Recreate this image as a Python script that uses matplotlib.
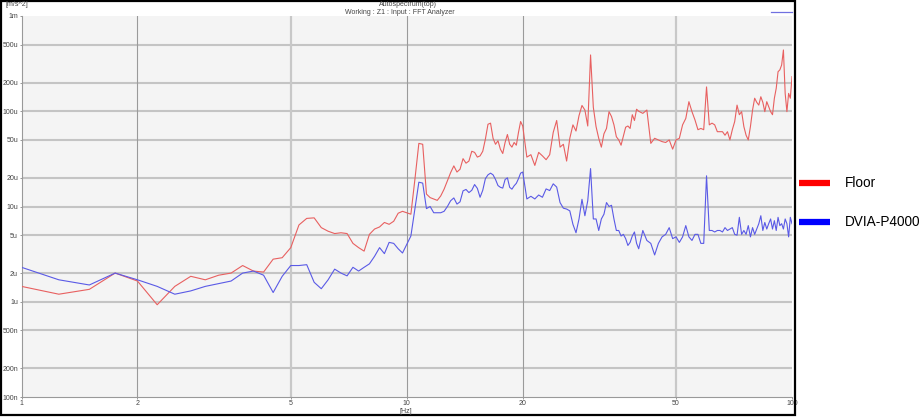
import numpy as np
import matplotlib
matplotlib.use("Agg")
import matplotlib.pyplot as plt
from matplotlib.patches import Rectangle
from matplotlib.lines import Line2D

# Frecuencias (Hz): 0.25 Hz hasta 20, 0.5 Hz hasta 40, 1 Hz hasta 100
freq = np.concatenate([np.arange(1.0, 20.01, 0.25),
                       np.arange(20.5, 40.01, 0.5),
                       np.arange(41.0, 100.01, 1.0)])

# Autoespectro, en micro m/s^2
floor_u = [
    1.45, 1.2, 1.35, 2.0, 1.65, 0.93, 1.45, 1.85, 1.7, 1.9, 2.0, 2.4, 2.1, 2.05, 2.8, 2.9,
    3.7, 6.4, 7.5, 7.6, 6.0, 5.5, 5.2, 5.3, 5.2, 4.1, 3.7, 3.4, 5.1, 5.8, 6.1, 6.8,
    6.5, 7.0, 8.5, 8.9, 8.6, 8.3, 19.3, 46, 45, 13.5, 12.4, 12, 11.6, 12.9, 15.2, 18.6,
    22.7, 26.7, 23, 24.6, 31.8, 28.5, 30, 38, 37, 33, 34, 38, 51, 73, 75, 52,
    45, 49, 40, 36, 47, 57, 45, 42, 47, 44, 60, 78, 70,
    33, 35, 27, 37, 34, 31, 35, 60, 80, 42, 45, 30, 52, 72, 62, 90, 115, 103, 70, 390,
    110, 69, 52, 42, 58, 66, 99, 88, 72, 54, 50, 44, 55, 68, 70, 66, 92, 80, 105, 100,
    95, 103, 46, 52, 50, 48, 47, 50, 40, 50, 52, 72, 84, 126, 99, 81, 64, 66, 64, 180,
    72, 75, 72, 61, 61, 61, 56, 61, 50, 64, 78, 116, 92, 99, 69, 56, 50, 69, 103, 137,
    124, 116, 142, 124, 99, 126, 112, 99, 92, 137, 174, 260, 272, 306, 440, 154, 99, 154, 137, 231,
]
dvia_u = [
    2.3, 1.7, 1.5, 2.0, 1.7, 1.45, 1.2, 1.3, 1.45, 1.55, 1.65, 2.0, 2.1, 1.9, 1.25, 1.85,
    2.4, 2.4, 2.45, 1.6, 1.37, 1.7, 2.2, 2.0, 1.87, 2.3, 2.1, 2.3, 2.5, 3.0, 3.7, 3.2,
    4.2, 4.1, 3.6, 3.25, 4.0, 4.9, 9.4, 18, 17.6, 9.5, 10, 8.6, 8.6, 8.6, 8.9, 10,
    11.5, 12.3, 10.6, 11.2, 14.6, 15.1, 14, 14.8, 17, 15.5, 12.5, 14.8, 19.6, 21.5, 22.4, 21.5,
    19.2, 16.6, 15.9, 15.6, 19.2, 20, 15.9, 15.2, 16.5, 17.5, 19.6, 22.4, 23,
    12, 12.8, 12, 13.2, 12.5, 15.3, 14.7, 17.3, 16, 11, 9.6, 9.4, 9.0, 6.5, 5.3, 7.4, 11.9, 8.0, 11.5, 25,
    7.4, 7.4, 5.6, 7.4, 8.3, 11, 10, 10.3, 7.4, 5.6, 5.6, 4.9, 5.1, 4.6, 3.9, 4.2, 4.9, 5.4, 4.1, 3.6,
    5.6, 4.4, 4.1, 3.1, 4.1, 4.8, 5.1, 6.0, 4.6, 4.8, 4.2, 4.8, 6.3, 4.8, 4.4, 5.1, 5.1, 4.1, 4.1, 21,
    5.6, 5.6, 5.4, 5.6, 5.6, 5.4, 6.0, 5.6, 5.8, 6.0, 5.1, 5.0, 7.7, 5.1, 5.6, 5.1, 6.3, 4.8, 6.0, 5.1,
    5.8, 6.6, 8.0, 5.6, 6.8, 5.8, 6.6, 7.4, 5.8, 7.1, 5.6, 7.7, 6.3, 6.6, 5.8, 7.4, 6.6, 4.8, 7.7, 6.6,
]

x_ticks = [1, 2, 5, 10, 20, 50, 100]
y_ticks = [1e-3, 5e-4, 2e-4, 1e-4, 5e-5, 2e-5, 1e-5, 5e-6, 2e-6, 1e-6, 5e-7, 2e-7, 1e-7]
y_labels = ["1m", "500u", "200u", "100u", "50u", "20u", "10u", "5u", "2u", "1u",
            "500n", "200n", "100n"]

W, H = 923, 418
fig = plt.figure(figsize=(W / 100, H / 100), dpi=100)
fig.patch.set_facecolor("white")

ax = fig.add_axes([21.5 / W, 1 - 397 / H, (792 - 21.5) / W, (397 - 16) / H])
ax.set_facecolor("#f4f4f4")
ax.set_xscale("log")
ax.set_yscale("log")
ax.set_xlim(1, 100)
ax.set_ylim(1e-7, 1e-3)

# Rejilla
for y in y_ticks[1:-1]:
    ax.axhline(y, color="#c4c4c4", lw=1.5, zorder=1)
for x in [2, 10, 20]:
    ax.axvline(x, color="#9a9a9a", lw=0.8, zorder=1)
for x in [5, 50]:
    ax.axvline(x, color="#c8c8c8", lw=1.6, zorder=1)

ax.plot(freq, np.array(floor_u) * 1e-6, color="#e86060", lw=0.8, zorder=3)
ax.plot(freq, np.array(dvia_u) * 1e-6, color="#5a5ae6", lw=0.8, zorder=3)

ax.set_xticks(x_ticks)
ax.set_xticklabels([str(t) for t in x_ticks])
ax.set_yticks(y_ticks)
ax.set_yticklabels(y_labels)
ax.minorticks_off()
ax.tick_params(axis="both", labelsize=5, labelcolor="#444444", color="#888888",
               length=1.5, width=0.6, pad=1)
for lab in ax.get_xticklabels() + ax.get_yticklabels():
    lab.set_family("Liberation Sans")

for side in ["top", "right"]:
    ax.spines[side].set_visible(False)
for side in ["left", "bottom"]:
    ax.spines[side].set_color("#999999")
    ax.spines[side].set_linewidth(0.8)

# Textos del analizador
small = dict(fontsize=5, color="#444444", va="center", family="Liberation Sans")
fig.text(5 / W, 1 - 5 / H, "[m/s^2]", ha="left", **small)
fig.text(408 / W, 1 - 5 / H, "Autospectrum(top)", ha="center", **small)
fig.text(400 / W, 1 - 12 / H, "Working : Z1 : Input : FFT Analyzer", ha="center", **small)
fig.text(406 / W, 1 - 411.5 / H, "[Hz]", ha="center", **small)
fig.add_artist(Line2D([771 / W, 792 / W], [1 - 12 / H, 1 - 12 / H], color="#7070e0", lw=0.9))

# Marco negro del grafico
fig.add_artist(Rectangle((1 / W, 1 - 415 / H), 794 / W, 414 / H, fill=False,
                         edgecolor="black", lw=1.6, transform=fig.transFigure))

# Leyenda
fig.add_artist(Line2D([799 / W, 830 / W], [1 - 183 / H, 1 - 183 / H], color="#ff0000", lw=4.5,
                      solid_capstyle="butt"))
fig.add_artist(Line2D([799 / W, 830 / W], [1 - 222 / H, 1 - 222 / H], color="#0000ff", lw=4.5,
                      solid_capstyle="butt"))
fig.text(845 / W, 1 - 183 / H, "Floor", fontsize=9.8, family="Liberation Sans",
         va="center", ha="left", color="black")
fig.text(845 / W, 1 - 222 / H, "DVIA-P4000", fontsize=9.8, family="Liberation Sans",
         va="center", ha="left", color="black")

fig.savefig("out.png", dpi=100, facecolor="white")
